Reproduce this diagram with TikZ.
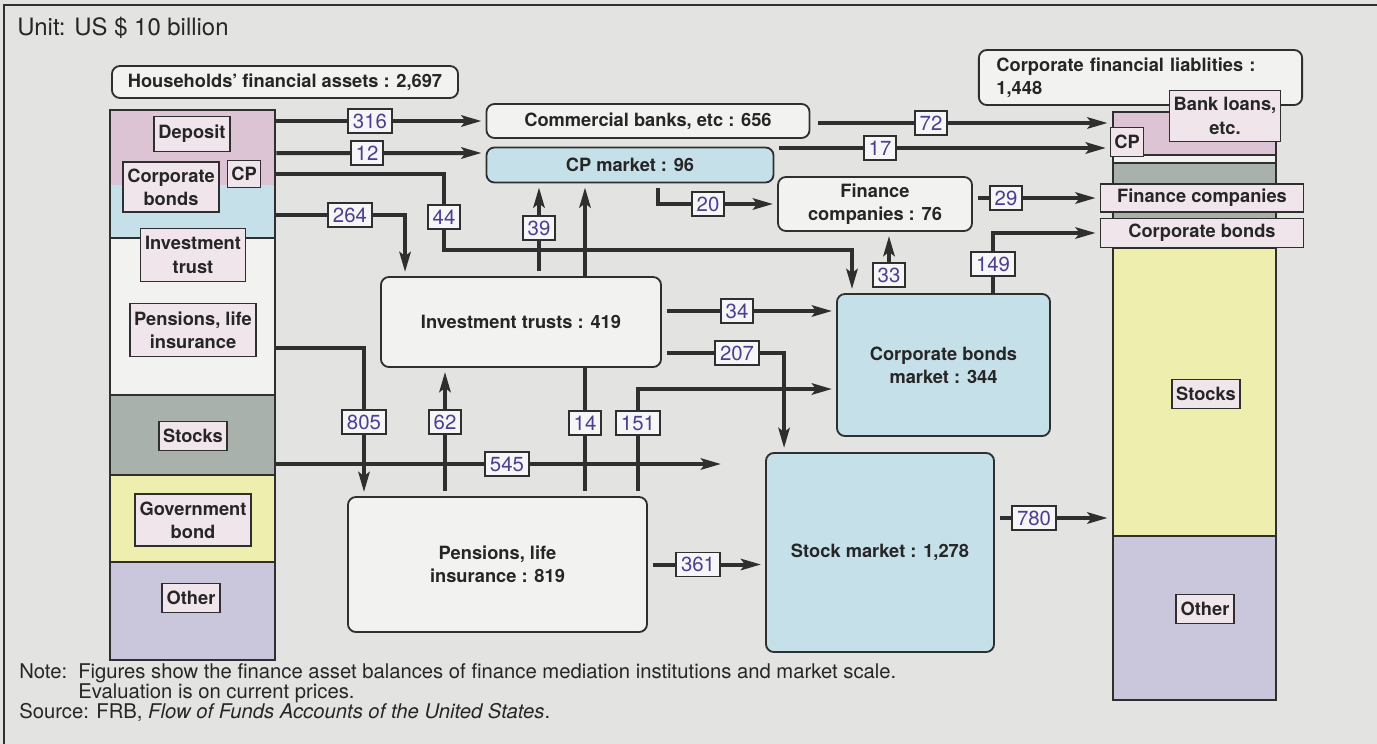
\documentclass[tikz,border=0pt]{standalone}
\usepackage{fontspec}
\setmainfont{TeX Gyre Heros}
\usepackage{tikz}
\usetikzlibrary{arrows.meta,backgrounds}
\definecolor{fundpaper}{HTML}{E3E3E1}
\definecolor{fundink}{HTML}{2F2F2F}
\definecolor{fundpink}{HTML}{DCC4D4}
\definecolor{fundsky}{HTML}{C6E0EA}
\definecolor{fundblank}{HTML}{F2F2F0}
\definecolor{fundslate}{HTML}{A8B1AC}
\definecolor{fundlemon}{HTML}{EEEEAE}
\definecolor{fundlilac}{HTML}{CAC6DC}
\definecolor{fundtag}{HTML}{F0E5EB}
\definecolor{fundnum}{HTML}{4E3E8E}
\definecolor{fundlabel}{HTML}{F6F5F8}

\begin{document}
\begin{tikzpicture}[x=0.025cm,y=-0.025cm,
  box/.style={draw=fundink,fill=fundblank,line width=1.3pt,rounded corners=2mm,
              inner sep=0pt,align=center,font=\fontsize{13}{16.5}\selectfont\bfseries,
              text=black!85},
  market/.style={box,fill=fundsky},
  tag/.style={draw=fundink,fill=fundtag,line width=1.1pt,inner xsep=1.1mm,inner ysep=0pt,
              minimum height=7.25mm,align=center,font=\fontsize{13}{16.5}\selectfont\bfseries,
              text=black!85},
  num/.style={draw=fundink,fill=fundlabel,line width=1pt,inner xsep=1.2mm,inner ysep=0pt,
              minimum height=6mm,font=\fontsize{14.5}{14.5}\selectfont,text=fundnum},
  col/.style={draw=fundink,line width=2pt,inner sep=0pt},
  sep/.style={fundink,line width=0.9pt},
  notetext/.style={anchor=base west,inner sep=0pt,font=\fontsize{14.4}{17}\selectfont,
              text=black!85},
  flow/.style={-{Stealth[length=5mm,width=2.8mm,inset=1mm]},line width=1mm,fundink,
              shorten >=1mm},
  outgap/.style={shorten <=1.25mm}]
  \useasboundingbox (0,0) rectangle (1377,744);
  \node[notetext,font=\fontsize{17}{20}\selectfont] (unit) at (17,35) {Unit: US \$ 10 billion};

  \fill[fundpink] (110,110) rectangle (275,185);
  \fill[fundsky] (110,185) rectangle (275,238);
  \fill[fundblank] (110,238) rectangle (275,395);
  \fill[fundslate] (110,395) rectangle (275,475);
  \fill[fundlemon] (110,475) rectangle (275,562);
  \fill[fundlilac] (110,562) rectangle (275,660);
  \draw[sep] (110,238) -- (275,238);
  \draw[sep] (110,395) -- (275,395);
  \draw[sep] (110,475) -- (275,475);
  \draw[sep] (110,562) -- (275,562);
  \node[col,minimum width=41.25mm,minimum height=137.5mm] (hcol) at (192.5,385) {};
  \node[box,minimum width=86.5mm,minimum height=8mm] (hhold) at (285,82)
       {Households’ financial assets : 2,697};
  \node[tag,minimum height=8.75mm] (hdep) at (192,134) {Deposit};
  \node[tag,minimum height=12.5mm] (hcorp) at (171,187) {Corporate\\bonds};
  \node[tag,minimum height=6.75mm,inner xsep=0.9mm] (hcp) at (244,174) {CP};
  \node[tag,minimum height=13.25mm] (hinv) at (193,255) {Investment\\trust};
  \node[tag,minimum height=13.25mm] (hpen) at (193,330) {Pensions, life\\insurance};
  \node[tag] (hstk) at (193,436) {Stocks};
  \node[tag,minimum height=13mm] (hgov) at (193,520) {Government\\bond};
  \node[tag] (hoth) at (191,598) {Other};

  \node[box,minimum width=80.75mm,minimum height=13.75mm,text width=72mm,align=left,
        inner xsep=4.4mm] (cliab) at (1140.5,77.5) {Corporate financial liablities :\\1,448};
  \fill[fundpink] (1113,112) rectangle (1276,155);
  \fill[fundblank] (1113,155) rectangle (1276,163);
  \fill[fundslate] (1113,163) rectangle (1276,248);
  \fill[fundlemon] (1113,248) rectangle (1276,536);
  \fill[fundlilac] (1113,536) rectangle (1276,700);
  \draw[sep] (1113,155) -- (1276,155);
  \draw[sep] (1113,163) -- (1276,163);
  \draw[sep] (1113,248) -- (1276,248);
  \draw[sep] (1113,536) -- (1276,536);
  \node[col,minimum width=40.75mm,minimum height=147mm] (ccol) at (1194.5,406) {};
  \node[tag,minimum height=12.75mm] (cloan) at (1225,116) {Bank loans,\\etc.};
  \node[tag,inner xsep=0.9mm] (ccp) at (1127,142) {CP};
  \node[tag,minimum width=50.75mm,minimum height=7mm] (cfin) at (1202,198) {Finance companies};
  \node[tag,minimum width=50.75mm] (cbond) at (1202,233) {Corporate bonds};
  \node[tag] (cstk) at (1206,394) {Stocks};
  \node[tag] (coth) at (1205,609) {Other};

  \node[box,minimum width=80.75mm,minimum height=8.5mm] (bank) at (648,121)
       {Commercial banks, etc : 656};
  \node[market,minimum width=71.75mm,minimum height=8.75mm] (cpmkt) at (630,165) {CP market : 96};
  \node[box,minimum width=48.5mm,minimum height=13.5mm] (fico) at (875,204) {Finance\\companies : 76};
  \node[box,minimum width=70mm,minimum height=22.5mm] (trust) at (521,322) {Investment trusts : 419};
  \node[box,minimum width=74.75mm,minimum height=33.75mm] (pension) at (497.5,564.5)
       {Pensions, life\\insurance : 819};
  \node[market,minimum width=53.25mm,minimum height=35.5mm] (bondmkt) at (943.5,365)
       {Corporate bonds\\market : 344};
  \node[market,minimum width=57mm,minimum height=49.75mm] (stockmkt) at (880,552.5)
       {Stock market : 1,278};

  \node[num] (n316) at (370,121) {316};
  \node[num] (n12) at (367,153) {12};
  \node[num] (n44) at (444,217) {44};
  \node[num] (n264) at (350,215) {264};
  \node[num] (n805) at (364,422) {805};
  \node[num] (n62) at (445,422) {62};
  \node[num] (n545) at (507,464) {545};
  \node[num] (n14) at (585,423) {14};
  \node[num] (n151) at (638,423) {151};
  \node[num] (n39) at (539,228) {39};
  \node[num] (n34) at (737,311) {34};
  \node[num] (n207) at (737,353) {207};
  \node[num] (n361) at (698,564.5) {361};
  \node[num] (n780) at (1034,518) {780};
  \node[num] (n20) at (708,204) {20};
  \node[num] (n33) at (889,275) {33};
  \node[num] (n149) at (993,264) {149};
  \node[num] (n29) at (1006,198) {29};
  \node[num] (n72) at (931,123) {72};
  \node[num] (n17) at (880,148) {17};
  \coordinate (bend44) at (852,250);

  \node[notetext] (notehead) at (19,678) {Note:};
  \node[notetext] (noteone) at (78,678)
       {Figures show the finance asset balances of finance mediation institutions and market scale.};
  \node[notetext] (notetwo) at (78,698) {Evaluation is on current prices.};
  \node[notetext] (source) at (19,718)
       {Source: FRB, \textit{Flow of Funds Accounts of the United States}.};

  \begin{scope}[on background layer]
    \fill[fundpaper] (0,0) rectangle (1377,744);
    \draw[fundink,line width=0.6mm] (4,744) -- (4,5) -- (1377,5);
    \draw[flow] (hcol.east |- n316) -- (bank.west |- n316);
    \draw[flow] (hcol.east |- n12) -- ([yshift=3mm]cpmkt.west);
    \draw[flow] (hcol.east |- hcp) -| (n44.center) |- (bend44) -- (bend44 |- bondmkt.north);
    \draw[flow] (hcol.east |- n264) -| ([xshift=6.25mm]trust.north west);
    \draw[flow] ([yshift=-4.5mm]hcol.east |- hpen) -| (n805 |- pension.north);
    \draw[flow] (hcol.east |- n545) -- ([xshift=-10mm]stockmkt.west |- n545);
    \draw[flow,outgap] (n62 |- pension.north) -- (n62 |- trust.south);
    \draw[flow,outgap] (n14 |- pension.north) -- (n14 |- cpmkt.south);
    \draw[flow,outgap] (n151 |- pension.north) |- ([yshift=-6mm]bondmkt.west);
    \draw[flow,outgap] (n39 |- trust.north) -- (n39 |- cpmkt.south);
    \draw[flow,outgap] (trust.east |- n34) -- (bondmkt.west |- n34);
    \draw[flow,outgap] (trust.east |- n207) -| ([xshift=4.75mm]stockmkt.north west);
    \draw[flow,outgap] (pension.east |- n361) -- (stockmkt.west |- n361);
    \draw[flow,outgap] (stockmkt.east |- n780) -- (ccol.west |- n780);
    \draw[flow,outgap] ([xshift=7mm]cpmkt.south) |- (fico.west |- n20);
    \draw[flow,outgap] (n33 |- bondmkt.north) -- (n33 |- fico.south);
    \draw[flow] (n149 |- bondmkt.north) |- (cbond.west);
    \draw[flow,outgap] (fico.east |- n29) -- (cfin.west |- n29);
    \draw[flow,shorten <=2mm] (bank.east |- n72) -- (ccol.west |- n72);
    \draw[flow,outgap] (cpmkt.east |- n17) -- (ccp.west |- n17);
  \end{scope}
\end{tikzpicture}
\end{document}
